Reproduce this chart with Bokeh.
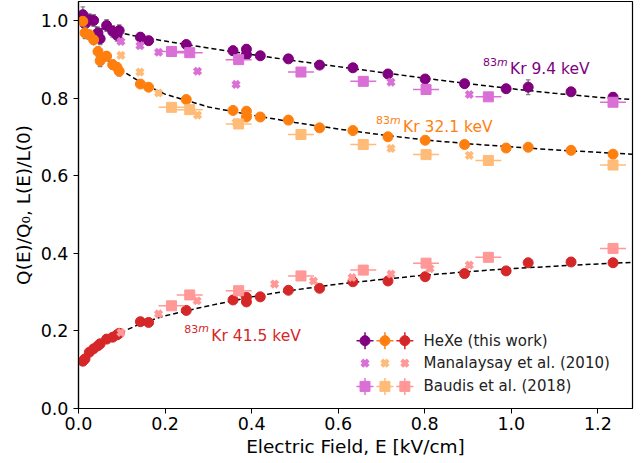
import numpy as np
from bokeh.plotting import figure
from bokeh.models import Range1d, Label, FixedTicker, PrintfTickFormatter
from bokeh.embed import file_html
from bokeh.resources import INLINE
from bokeh.core.properties import value

# ---------------- data ----------------
# HeXe (this work)
hexe_E = [0.010, 0.015, 0.025, 0.035, 0.045, 0.050, 0.065, 0.079, 0.089, 0.094,
          0.143, 0.162, 0.249, 0.357, 0.388, 0.388, 0.420, 0.485, 0.557, 0.634,
          0.715, 0.801, 0.892, 0.988, 1.039, 1.138, 1.235]
hexe_9 = [1.016, 0.992, 1.003, 1.001, 0.969, 0.954, 0.988, 0.973, 0.963, 0.975,
          0.958, 0.949, 0.939, 0.923, 0.927, 0.913, 0.910, 0.902, 0.886, 0.879,
          0.863, 0.850, 0.838, 0.825, 0.829, 0.817, 0.803]
hexe_9_err = [0.020, 0.015, 0.015, 0.015, 0.015, 0.015, 0.015, 0.015, 0.015, 0.015,
              0.012, 0.010, 0.010, 0.012, 0.012, 0.012, 0.010, 0.010, 0.008, 0.010,
              0.010, 0.008, 0.010, 0.008, 0.019, 0.006, 0.012]
hexe_32 = [0.999, 0.969, 0.964, 0.951, 0.921, 0.897, 0.909, 0.887, 0.880, 0.870,
           0.837, 0.829, 0.797, 0.769, 0.767, 0.752, 0.752, 0.744, 0.724, 0.717,
           0.701, 0.692, 0.681, 0.672, 0.674, 0.666, 0.656]
hexe_32_err = [0.010, 0.015, 0.012, 0.010, 0.012, 0.015, 0.012, 0.012, 0.012, 0.012,
               0.008, 0.006, 0.005, 0.005, 0.005, 0.005, 0.005, 0.005, 0.005, 0.005,
               0.005, 0.005, 0.005, 0.005, 0.005, 0.005, 0.005]
hexe_41 = [0.122, 0.128, 0.145, 0.154, 0.162, 0.167, 0.179, 0.184, 0.190, 0.194,
           0.224, 0.222, 0.253, 0.280, 0.287, 0.275, 0.288, 0.305, 0.310, 0.327,
           0.329, 0.340, 0.348, 0.355, 0.376, 0.378, 0.376]
hexe_41_err = [0.004] * 27

# Manalaysay et al. (2010)
man_E_9 = [0.098, 0.142, 0.185, 0.275, 0.364, 0.722, 0.903]
man_9 = [0.947, 0.936, 0.919, 0.870, 0.836, 0.842, 0.810]
man_E_32 = [0.098, 0.142, 0.185, 0.275, 0.364, 0.722, 0.903]
man_32 = [0.911, 0.868, 0.814, 0.757, 0.738, 0.671, 0.653]
man_E_41 = [0.098, 0.185, 0.274, 0.370, 0.453, 0.543, 0.632, 0.722, 0.812, 0.903]
man_41 = [0.196, 0.244, 0.278, 0.299, 0.321, 0.329, 0.338, 0.347, 0.361, 0.370]

# Baudis et al. (2018)
bau_E = [0.215, 0.257, 0.370, 0.514, 0.658, 0.803, 0.947, 1.235]
bau_E_err = [0.030, 0.030, 0.030, 0.030, 0.030, 0.030, 0.030, 0.030]
bau_9 = [0.921, 0.918, 0.900, 0.868, 0.844, 0.823, 0.804, 0.790]
bau_32 = [0.777, 0.771, 0.734, 0.707, 0.681, 0.655, 0.640, 0.628]
bau_41 = [0.265, 0.293, 0.304, 0.342, 0.357, 0.375, 0.390, 0.413]

# fit curves
fit_9_E = [0.0, 0.02, 0.05, 0.10, 0.15, 0.20, 0.30, 0.40, 0.50, 0.60, 0.70, 0.80, 0.90, 1.00, 1.10, 1.20, 1.28]
fit_9 = [1.000, 0.992, 0.981, 0.968, 0.957, 0.948, 0.930, 0.913, 0.897, 0.882, 0.867, 0.852, 0.838, 0.825, 0.813, 0.803, 0.797]
fit_32_E = [0.0, 0.02, 0.04, 0.06, 0.08, 0.10, 0.15, 0.20, 0.30, 0.40, 0.50, 0.60, 0.70, 0.80, 0.90, 1.00, 1.10, 1.20, 1.28]
fit_32 = [1.000, 0.962, 0.932, 0.906, 0.887, 0.872, 0.837, 0.811, 0.778, 0.757, 0.738, 0.721, 0.706, 0.693, 0.683, 0.675, 0.667, 0.661, 0.656]
fit_41_E = [0.01, 0.03, 0.05, 0.075, 0.10, 0.15, 0.20, 0.28, 0.40, 0.50, 0.60, 0.70, 0.80, 0.90, 1.00, 1.10, 1.20, 1.28]
fit_41 = [0.120, 0.143, 0.162, 0.181, 0.197, 0.222, 0.239, 0.260, 0.288, 0.306, 0.321, 0.333, 0.344, 0.353, 0.361, 0.367, 0.373, 0.377]

legend_labels = ["HeXe (this work)", "Manalaysay et al. (2010)", "Baudis et al. (2018)"]
line_labels = ["Kr 9.4 keV", "Kr 32.1 keV", "Kr 41.5 keV"]

# ---------------- style ----------------
C_DARK = ["#800080", "#ff7f0e", "#d62728"]
C_LIGHT = ["#da70d6", "#ffbb78", "#ff9896"]
FONT = "DejaVu Sans"

p = figure(width=643, height=463, output_backend="svg", toolbar_location=None,
           x_range=Range1d(0, 1.28), y_range=Range1d(0, 1.05),
           min_border_left=78, min_border_right=11, min_border_top=1, min_border_bottom=55)
p.xgrid.visible = False
p.ygrid.visible = False
p.outline_line_color = "black"
p.outline_line_width = 1.2
p.background_fill_color = "white"
p.border_fill_color = "white"

for ax in (p.xaxis[0], p.yaxis[0]):
    ax.major_label_text_font = FONT
    ax.major_label_text_font_size = "17.5px"
    ax.major_label_text_color = "black"
    ax.axis_label_text_font = FONT
    ax.axis_label_text_font_size = "18.5px"
    ax.axis_label_text_font_style = "normal"
    ax.axis_label_text_color = "black"
    ax.major_tick_in = 0
    ax.major_tick_out = 5
    ax.minor_tick_in = 0
    ax.minor_tick_out = 0
    ax.axis_line_color = "black"
    ax.axis_line_width = 1.2
    ax.major_tick_line_color = "black"
    ax.formatter = PrintfTickFormatter(format="%.1f")
p.xaxis.ticker = FixedTicker(ticks=[0.0, 0.2, 0.4, 0.6, 0.8, 1.0, 1.2])
p.yaxis.ticker = FixedTicker(ticks=[0.0, 0.2, 0.4, 0.6, 0.8, 1.0])
p.xaxis.axis_label = "Electric Field, E [kV/cm]"
p.yaxis.axis_label = "Q(E)/Q\u2080, L(E)/L(0)"
p.yaxis.major_label_standoff = 5
p.xaxis.major_label_standoff = 3
p.xaxis.axis_label_standoff = 3
p.yaxis.axis_label_standoff = 4

# fits
for fx, fy in ((fit_9_E, fit_9), (fit_32_E, fit_32), (fit_41_E, fit_41)):
    p.line(fx, fy, line_color="black", line_width=1.5, line_dash="5 3")

# HeXe points with grey error bars
E = np.array(hexe_E)
for ys, errs, c in ((hexe_9, hexe_9_err, C_DARK[0]), (hexe_32, hexe_32_err, C_DARK[1]),
                    (hexe_41, hexe_41_err, C_DARK[2])):
    y = np.array(ys); e = np.array(errs)
    p.segment(E, y - e, E, y + e, line_color="#808080", line_width=1.5)
    p.rect(E, y - e, width=0.009, height=0.0001, line_color="#808080", line_width=1.2, fill_alpha=0)
    p.rect(E, y + e, width=0.009, height=0.0001, line_color="#808080", line_width=1.2, fill_alpha=0)
    p.scatter(E, y, marker="circle", size=10, fill_color=c, line_color=c, line_width=1)

# Manalaysay X markers
for ex, ys, c in ((man_E_9, man_9, C_LIGHT[0]), (man_E_32, man_32, C_LIGHT[1]),
                  (man_E_41, man_41, C_LIGHT[2])):
    p.scatter(ex, ys, marker="x", size=9, line_color=c, line_width=4)

# Baudis squares with x error
BE = np.array(bau_E); BEe = np.array(bau_E_err)
for ys, c in ((bau_9, C_LIGHT[0]), (bau_32, C_LIGHT[1]), (bau_41, C_LIGHT[2])):
    p.segment(BE - BEe, ys, BE + BEe, ys, line_color=c, line_width=1.5)
    p.scatter(BE, ys, marker="square", size=10, fill_color=c, line_color=c)

# curve annotations: (x, baseline y) for "Kr ..." text
ann_pos = [(0.997, 0.875), (0.750, 0.726), (0.307, 0.188)]
for (ax_, ay_), txt, c in zip(ann_pos, line_labels, C_DARK):
    p.add_layout(Label(x=ax_, y=ay_, text=txt, text_color=c, text_font=FONT,
                       text_font_size="15.5px", text_baseline="alphabetic", text_align="left"))
    p.add_layout(Label(x=ax_, y=ay_, x_offset=-27, y_offset=7, text="83", text_color=c,
                       text_font=FONT, text_font_size="11px", text_baseline="alphabetic"))
    p.add_layout(Label(x=ax_, y=ay_, x_offset=-13, y_offset=7, text="m", text_color=c,
                       text_font=FONT, text_font_size="11px", text_font_style="italic",
                       text_baseline="alphabetic"))

# manual legend (layout positions in axis units)
leg_cols = [0.662, 0.708, 0.754]
leg_rows = [0.175, 0.117, 0.057]
leg_text_x = 0.797
for i in range(3):
    cx = leg_cols[i]
    # HeXe
    p.scatter([cx], [leg_rows[0]], marker="cross", size=17, line_color=C_DARK[i], line_width=1.5)
    p.scatter([cx], [leg_rows[0]], marker="circle", size=10, fill_color=C_DARK[i], line_color=C_DARK[i])
    # Manalaysay
    p.scatter([cx], [leg_rows[1]], marker="x", size=9, line_color=C_LIGHT[i], line_width=4)
    # Baudis
    p.scatter([cx], [leg_rows[2]], marker="cross", size=17, line_color=C_LIGHT[i], line_width=1.5)
    p.scatter([cx], [leg_rows[2]], marker="square", size=10, fill_color=C_LIGHT[i], line_color=C_LIGHT[i])
for r, lab in zip(leg_rows, legend_labels):
    p.add_layout(Label(x=leg_text_x, y=r, text=lab, text_font=FONT, text_font_size="15px",
                       text_color="#222222", text_baseline="middle"))

open("out.html", "w").write(file_html(p, INLINE))
